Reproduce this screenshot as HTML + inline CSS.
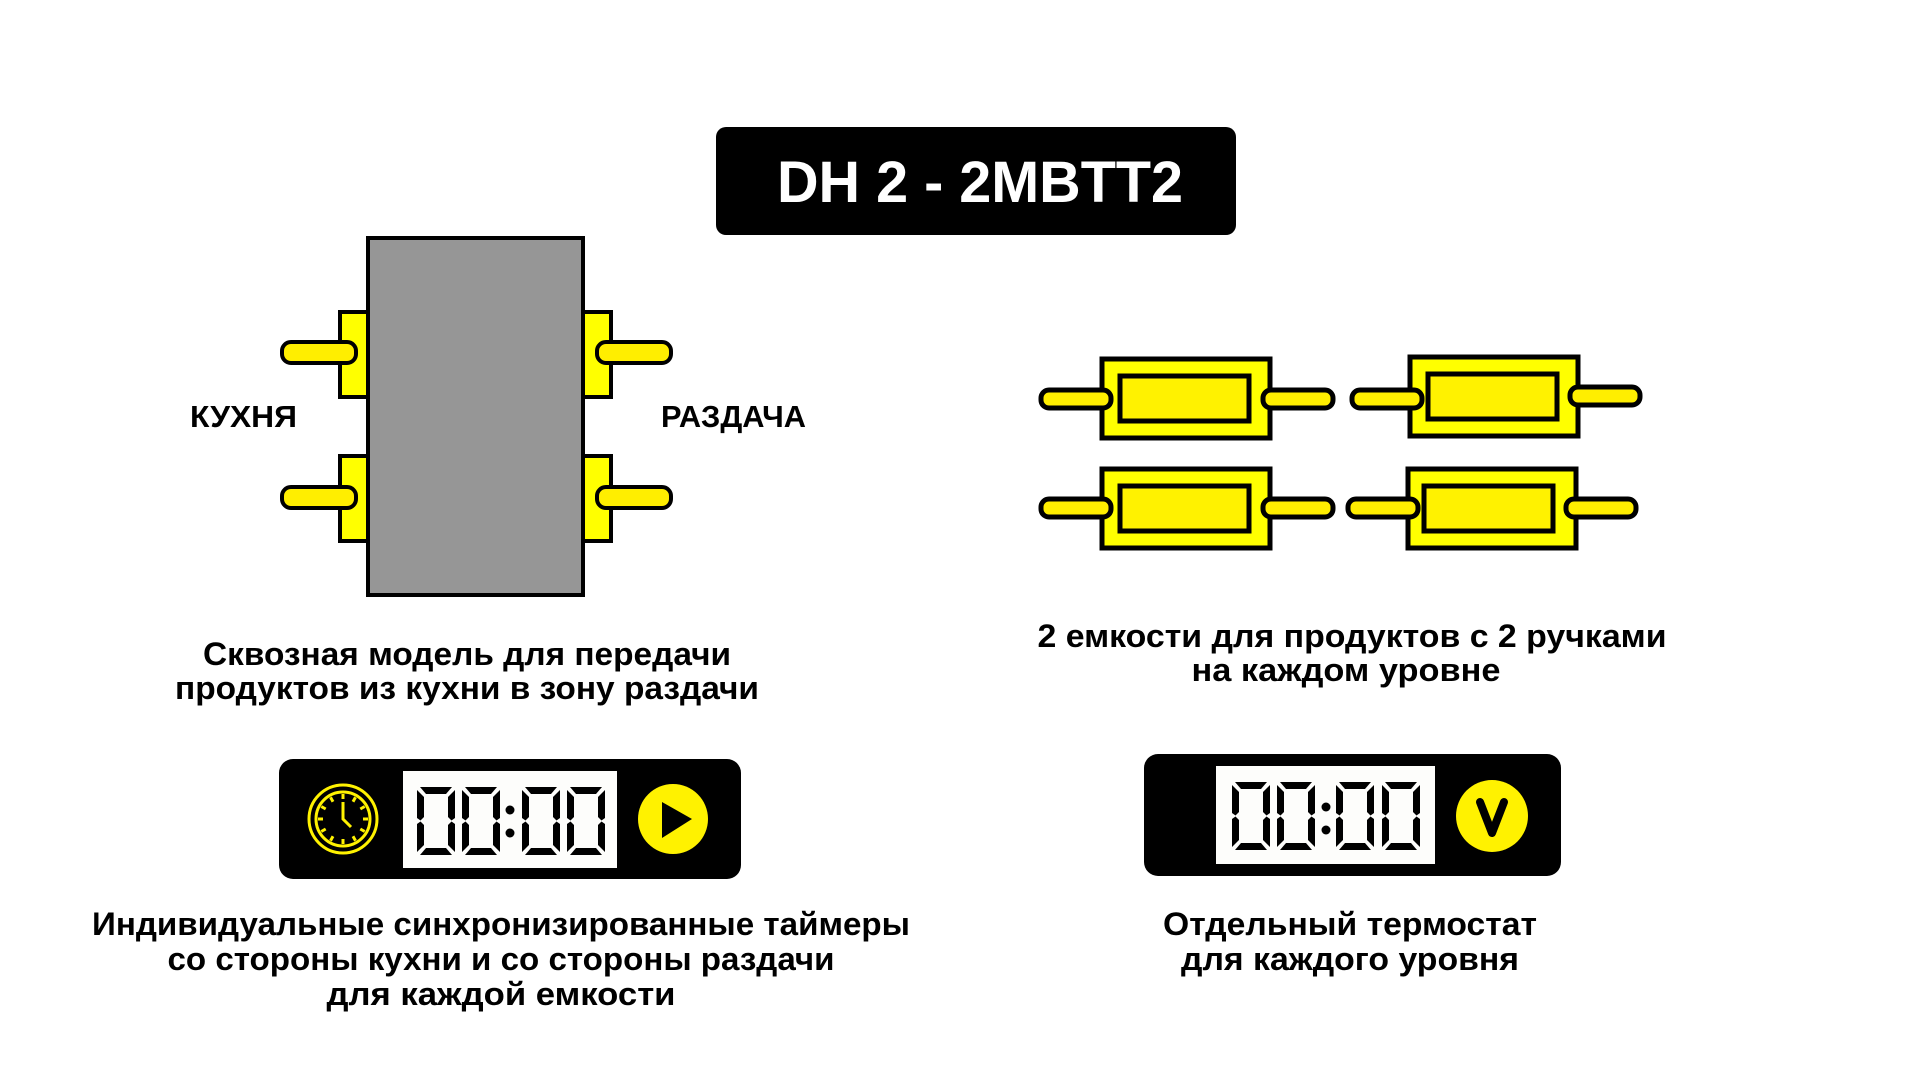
<!DOCTYPE html>
<html><head><meta charset="utf-8"><style>
html,body{margin:0;padding:0;background:#fff;width:1920px;height:1080px;overflow:hidden}
svg{display:block}
text{font-family:"Liberation Sans","DejaVu Sans",sans-serif;font-weight:bold}
</style></head><body>
<svg width="1920" height="1080" viewBox="0 0 1920 1080" xmlns="http://www.w3.org/2000/svg">
<defs>
<g id="z">
<polygon points="3,0 35,0 29,7 9,7"/>
<polygon points="9,61 29,61 35,68 3,68"/>
<polygon points="0,3 7,10 7,30 3.5,33.5 0,31"/>
<polygon points="0,37 3.5,34.5 7,38 7,58 0,65"/>
<polygon points="38,3 38,31 34.5,33.5 31,30 31,10"/>
<polygon points="38,37 38,65 31,58 31,38 34.5,34.5"/>
</g>
</defs>

<rect x="716" y="127" width="520" height="108" rx="10" fill="#000"/>
<text x="777" y="202" font-size="58" fill="#fff" textLength="406" lengthAdjust="spacingAndGlyphs">DH 2 - 2MBTT2</text>

<g stroke="#000" stroke-width="4">
<rect x="340" y="312" width="28" height="85" fill="#FFFF00"/>
<rect x="340" y="456" width="28" height="85" fill="#FFFF00"/>
<rect x="583" y="312" width="28" height="85" fill="#FFFF00"/>
<rect x="583" y="456" width="28" height="85" fill="#FFFF00"/>
<rect x="368" y="238" width="215" height="357" fill="#969696"/>
<rect x="282" y="342" width="74" height="21" rx="9" fill="#FFEE00"/>
<rect x="282" y="487" width="74" height="21" rx="9" fill="#FFEE00"/>
<rect x="597" y="342" width="74" height="21" rx="9" fill="#FFEE00"/>
<rect x="597" y="487" width="74" height="21" rx="9" fill="#FFEE00"/>
</g>
<text x="190" y="427" font-size="31" fill="#000" textLength="107" lengthAdjust="spacingAndGlyphs">КУХНЯ</text>
<text x="661" y="427" font-size="31" fill="#000" textLength="145" lengthAdjust="spacingAndGlyphs">РАЗДАЧА</text>

<g stroke="#000" stroke-width="5">
<rect x="1102" y="359" width="168" height="79" fill="#FFFF00"/>
<rect x="1120" y="376" width="129" height="45" fill="#FFF200"/>
<rect x="1041" y="390" width="70" height="18" rx="8" fill="#FFEE00"/>
<rect x="1263" y="390" width="70" height="18" rx="8" fill="#FFEE00"/>

<rect x="1410" y="357" width="168" height="79" fill="#FFFF00"/>
<rect x="1428" y="374" width="129" height="45" fill="#FFF200"/>
<rect x="1352" y="390" width="70" height="18" rx="8" fill="#FFEE00"/>
<rect x="1570" y="387" width="70" height="18" rx="8" fill="#FFEE00"/>

<rect x="1102" y="469" width="168" height="79" fill="#FFFF00"/>
<rect x="1120" y="486" width="129" height="45" fill="#FFF200"/>
<rect x="1041" y="499" width="70" height="18" rx="8" fill="#FFEE00"/>
<rect x="1263" y="499" width="70" height="18" rx="8" fill="#FFEE00"/>

<rect x="1408" y="469" width="168" height="79" fill="#FFFF00"/>
<rect x="1424" y="486" width="129" height="45" fill="#FFF200"/>
<rect x="1348" y="499" width="70" height="18" rx="8" fill="#FFEE00"/>
<rect x="1566" y="499" width="70" height="18" rx="8" fill="#FFEE00"/>
</g>

<g font-size="32" fill="#000" text-anchor="middle">
<text x="467" y="665" textLength="528" lengthAdjust="spacingAndGlyphs">Сквозная модель для передачи</text>
<text x="467" y="699" textLength="584" lengthAdjust="spacingAndGlyphs">продуктов из кухни в зону раздачи</text>
<text x="1352" y="647" textLength="629" lengthAdjust="spacingAndGlyphs">2 емкости для продуктов с 2 ручками</text>
<text x="1346" y="681" textLength="309" lengthAdjust="spacingAndGlyphs">на каждом уровне</text>
<text x="501" y="935" textLength="818" lengthAdjust="spacingAndGlyphs">Индивидуальные синхронизированные таймеры</text>
<text x="501" y="970" textLength="667" lengthAdjust="spacingAndGlyphs">со стороны кухни и со стороны раздачи</text>
<text x="501" y="1005" textLength="349" lengthAdjust="spacingAndGlyphs">для каждой емкости</text>
<text x="1350" y="935" textLength="374" lengthAdjust="spacingAndGlyphs">Отдельный термостат</text>
<text x="1350" y="970" textLength="338" lengthAdjust="spacingAndGlyphs">для каждого уровня</text>
</g>

<rect x="279" y="759" width="462" height="120" rx="14" fill="#000"/>
<g fill="none" stroke="#FFF200" stroke-width="3">
<circle cx="343" cy="819" r="34"/>
<circle cx="343" cy="819" r="27"/>
<line x1="343" y1="794" x2="343" y2="799"/>
<line x1="343" y1="839" x2="343" y2="844"/>
<line x1="318" y1="819" x2="323" y2="819"/>
<line x1="363" y1="819" x2="368" y2="819"/>
<line x1="330.5" y1="797.3" x2="333" y2="801.7"/>
<line x1="355.5" y1="797.3" x2="353" y2="801.7"/>
<line x1="330.5" y1="840.7" x2="333" y2="836.3"/>
<line x1="355.5" y1="840.7" x2="353" y2="836.3"/>
<line x1="321.3" y1="806.5" x2="325.7" y2="809"/>
<line x1="364.7" y1="806.5" x2="360.3" y2="809"/>
<line x1="321.3" y1="831.5" x2="325.7" y2="829"/>
<line x1="364.7" y1="831.5" x2="360.3" y2="829"/>
<polyline points="343,802 343,819 351,827"/>
</g>
<rect x="403" y="771" width="214" height="97" fill="#fdfdfb"/>
<g fill="#000">
<use href="#z" x="417" y="787"/>
<use href="#z" x="462" y="787"/>
<use href="#z" x="522" y="787"/>
<use href="#z" x="567" y="787"/>
<circle cx="510" cy="810" r="4.5"/>
<circle cx="510" cy="833" r="4.5"/>
</g>
<circle cx="673" cy="819" r="35" fill="#FFF200"/>
<polygon points="662,802 662,838 692,819" fill="#000"/>

<rect x="1144" y="754" width="417" height="122" rx="14" fill="#000"/>
<rect x="1216" y="766" width="219" height="98" fill="#fdfdfb"/>
<g fill="#000">
<use href="#z" x="1232" y="782"/>
<use href="#z" x="1277" y="782"/>
<use href="#z" x="1336" y="782"/>
<use href="#z" x="1382" y="782"/>
<circle cx="1326" cy="807" r="4.5"/>
<circle cx="1326" cy="830" r="4.5"/>
</g>
<circle cx="1492" cy="816" r="36" fill="#FFF200"/>
<polyline points="1480,802 1492,833 1504,802" fill="none" stroke="#000" stroke-width="8" stroke-linecap="round" stroke-linejoin="round"/>
</svg>
</body></html>
